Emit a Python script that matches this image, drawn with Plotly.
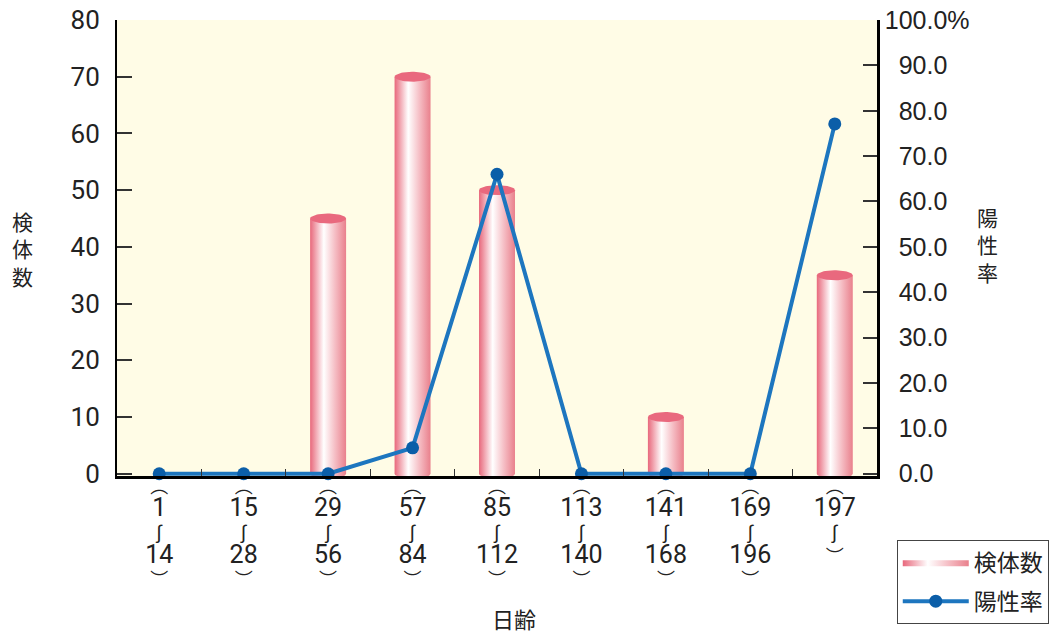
import numpy as np
import plotly.graph_objects as go

# ---- data ----
start_days = [1, 15, 29, 57, 85, 113, 141, 169, 197]
end_days = [14, 28, 56, 84, 112, 140, 168, 196, None]
specimen_counts = [0, 0, 45, 70, 50, 0, 10, 0, 35]
positive_rate = [0.0, 0.0, 0.0, 5.7, 66.0, 0.0, 0.0, 0.0, 77.1]
left_ticks = [0, 10, 20, 30, 40, 50, 60, 70, 80]
right_ticks = [0, 10, 20, 30, 40, 50, 60, 70, 80, 90, 100]

NARROW = "Liberation Sans Narrow, Roboto, Noto Sans CJK JP, sans-serif"
WIDE = "Liberation Sans, Arial, Noto Sans CJK JP, sans-serif"
CJK = "Noto Sans CJK JP, sans-serif"

def x_label(s, e):
    num = "<span style='font-size:25px'>{}</span>"
    wave = "<span style='font-size:19px'>∫</span>"
    parts = ["︵", num.format(s), wave]
    if e is not None:
        parts.append(num.format(e))
    parts.append("︶")
    return "<br>".join(parts)

x_ticktext = [x_label(s, e) for s, e in zip(start_days, end_days)]
right_ticktext = [("\u2007" if v < 100 else "") + f"{v:.1f}" + ("%" if v == 100 else "") for v in right_ticks]

xs = list(range(len(start_days)))
half_w = 0.213
ell_h = 0.88
t = np.linspace(0, np.pi, 30)
grad = [[0, "#e8687c"], [0.12, "#ef97a4"], [0.38, "#ffffff"], [0.7, "#f5bcc3"], [1, "#e9808c"]]

fig = go.Figure()
first = True
for xi, v in zip(xs, specimen_counts):
    if v <= 0:
        continue
    bx = np.concatenate([[xi - half_w, xi + half_w], xi + half_w * np.cos(t), [xi - half_w]])
    by = np.concatenate([[v, v], -ell_h * np.sin(t), [v]])
    fig.add_trace(go.Scatter(
        x=bx, y=by, mode="lines", fill="toself", line=dict(width=0, color="#e8687c"),
        fillgradient=dict(type="horizontal", colorscale=grad),
        name="検体数", showlegend=first, legendgroup="a", hoverinfo="skip"))
    first = False
    tt = np.linspace(0, 2 * np.pi, 60)
    fig.add_trace(go.Scatter(
        x=xi + half_w * np.cos(tt), y=v + ell_h * np.sin(tt), mode="lines", fill="toself",
        line=dict(width=0, color="#e9697e"), fillcolor="#e9697e",
        showlegend=False, legendgroup="a", hoverinfo="skip"))

fig.add_trace(go.Scatter(
    x=xs, y=positive_rate, yaxis="y2", mode="lines+markers", name="陽性率",
    line=dict(color="#1d76bf", width=4), marker=dict(color="#0b5ea8", size=13),
    cliponaxis=False, legendgroup="b"))

fig.update_layout(
    width=1061, height=634,
    margin=dict(l=117, r=184, t=20, b=158, autoexpand=False),
    paper_bgcolor="white", plot_bgcolor="#fffce6",
    showlegend=True,
    legend=dict(x=1.026, y=-0.14, xanchor="left", yanchor="top", itemwidth=66,
                bordercolor="#444", borderwidth=1, bgcolor="white",
                font=dict(family=CJK, size=23, color="#222"), tracegroupgap=6),
    xaxis=dict(range=[-0.5, 8.5], tickvals=xs, ticktext=x_ticktext, ticks="",
               automargin=False, ticklabelstandoff=-8, ticklabeloverflow="allow",
               showgrid=False, zeroline=False, showline=True, linecolor="black", linewidth=3,
               tickfont=dict(family=NARROW, size=18, color="#222"),
               minor=dict(tickvals=[i + 0.5 for i in xs[:-1]], ticks="inside", ticklen=7,
                          tickwidth=1, tickcolor="#333")),
    yaxis=dict(range=[-0.4, 80], tickvals=left_ticks, ticks="inside", ticklen=15, tickwidth=1.5,
               automargin=False, ticklabeloverflow="allow",
               tickcolor="#333", showgrid=False, zeroline=False, showline=True,
               linecolor="black", linewidth=2, ticklabelstandoff=10,
               tickfont=dict(family=NARROW, size=26, color="#222")),
    yaxis2=dict(range=[-0.5, 100], overlaying="y", side="right", tickvals=right_ticks,
                automargin=False, ticklabeloverflow="allow",
                ticktext=right_ticktext, ticks="inside", ticklen=14, tickwidth=1.5,
                tickcolor="#333", showgrid=False, zeroline=False, showline=True,
                linecolor="black", linewidth=2.5,
                tickfont=dict(family=WIDE, size=25, color="#222")),
    annotations=[
        dict(text="検<br>体<br>数", x=-0.125, y=0.5, xref="paper", yref="paper",
             xanchor="center", yanchor="middle",
             showarrow=False, font=dict(family=CJK, size=21, color="#222")),
        dict(text="陽<br>性<br>率", x=1.146, y=0.507, xref="paper", yref="paper",
             xanchor="center", yanchor="middle",
             showarrow=False, font=dict(family=CJK, size=21, color="#222")),
        dict(text="日齢", x=0.523, y=-0.311, xref="paper", yref="paper",
             xanchor="center", yanchor="middle",
             showarrow=False, font=dict(family=CJK, size=22, color="#222")),
    ],
)

fig.write_html("out.html", config={"displayModeBar": False},
               post_script="document.body.style.margin='0';document.body.style.overflow='hidden';")
